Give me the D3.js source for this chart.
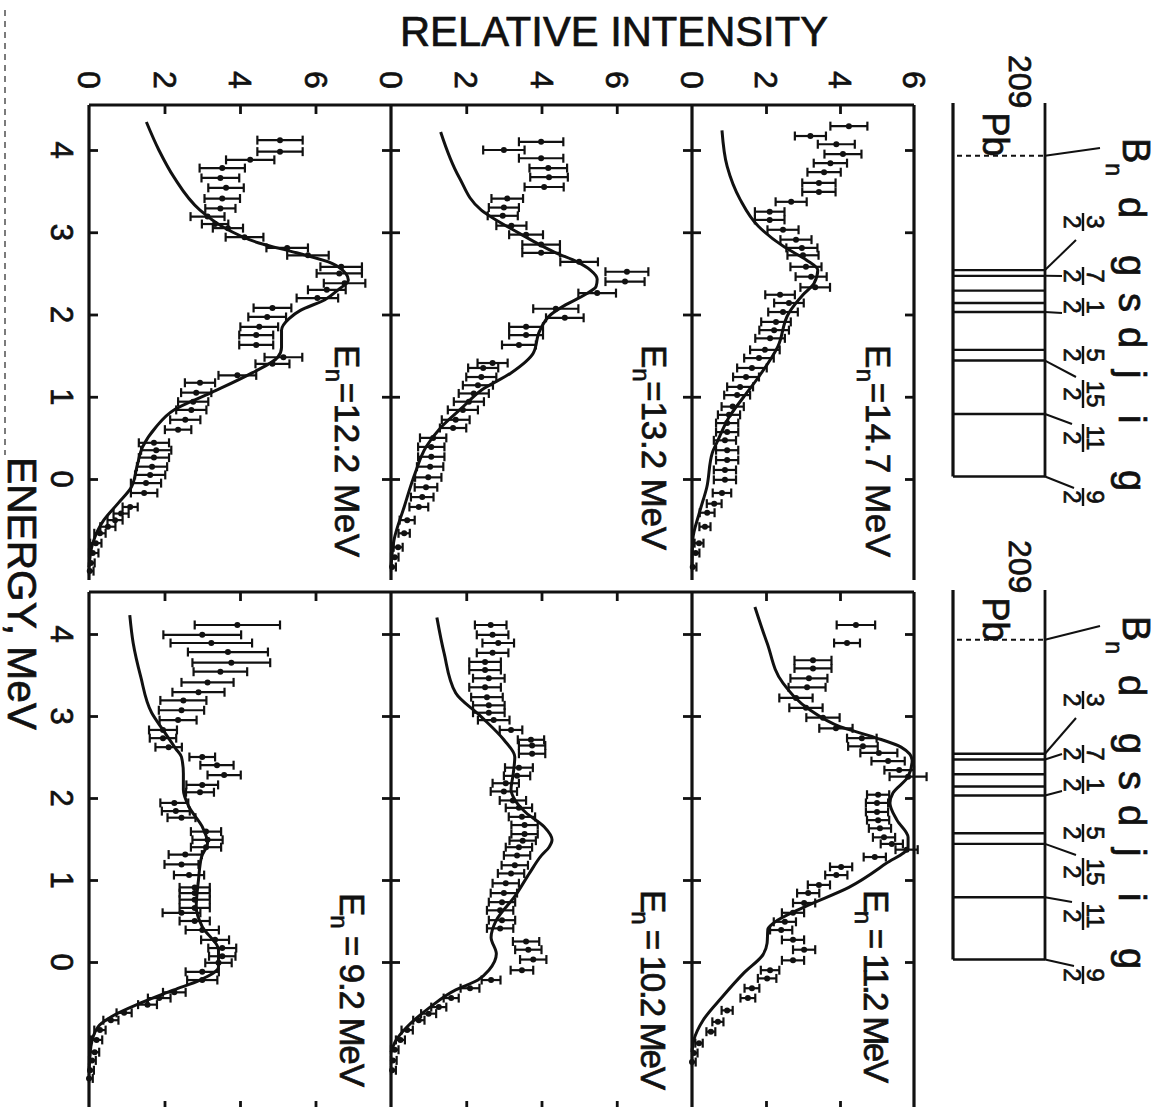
<!DOCTYPE html>
<html>
<head>
<meta charset="utf-8">
<script src="https://cdn.jsdelivr.net/npm/d3@7"></script>
<style>
  body { margin: 0; background: #fff; }
  text { font-family: "Liberation Sans", Arial, sans-serif; fill: #111; stroke: #111; stroke-width: 0.7px; }
</style>
</head>
<body>
<svg id="chart" width="1165" height="1107"></svg>
<script>
// tick values
const energyTicks = [4, 3, 2, 1, 0];
const intensityTicks = [0, 2, 4, 6];

// calculated curves: [energy MeV, relative intensity]
const curve122 = [[4.34,1.52],[4.0,1.85],[3.67,2.25],[3.27,2.94],[3.07,3.53],[2.87,4.5],[2.75,5.5],[2.62,6.45],[2.5,6.8],[2.42,6.87],[2.3,6.6],[2.18,6.25],[2.05,5.6],[1.95,5.3],[1.81,5.1],[1.6,5.1],[1.48,5.0],[1.29,4.32],[1.05,3.24],[0.84,2.25],[0.63,1.77],[0.39,1.42],[0.15,1.27],[-0.1,1.12],[-0.29,0.78],[-0.5,0.39],[-0.78,0.1],[-1.07,0.0]];
const curve132 = [[4.22,1.32],[3.67,1.81],[3.27,2.4],[2.99,3.4],[2.75,4.38],[2.64,4.95],[2.54,5.3],[2.43,5.48],[2.34,5.45],[2.24,5.15],[2.12,4.65],[2.0,4.25],[1.8,3.95],[1.53,3.78],[1.29,3.19],[1.08,2.4],[0.88,1.92],[0.63,1.33],[0.39,0.93],[0.07,0.64],[-0.34,0.35],[-0.74,0.08],[-1.07,0.0]];
const curve147 = [[4.24,0.81],[3.8,0.95],[3.4,1.3],[3.07,1.8],[2.82,2.5],[2.66,3.1],[2.54,3.4],[2.38,3.3],[2.24,3.0],[2.02,2.62],[1.61,2.32],[1.24,1.8],[1.0,1.4],[0.75,1.0],[0.47,0.7],[0.32,0.55],[-0.1,0.4],[-0.41,0.2],[-0.74,0.02],[-1.07,0.0]];
const curve92 = [[4.23,1.08],[3.89,1.17],[3.48,1.37],[3.04,1.66],[2.83,1.96],[2.6,2.3],[2.5,2.45],[2.3,2.5],[2.1,2.5],[1.89,2.65],[1.65,3.0],[1.45,3.14],[1.28,2.98],[1.0,2.9],[0.67,2.84],[0.43,3.0],[0.15,3.43],[-0.06,3.43],[-0.22,2.94],[-0.34,2.25],[-0.5,1.37],[-0.67,0.58],[-0.79,0.24],[-1.03,0.05],[-1.35,0.0]];
const curve102 = [[4.2,1.22],[3.77,1.41],[3.28,1.72],[2.99,2.4],[2.71,3.0],[2.5,3.29],[2.3,3.25],[2.1,3.19],[1.98,3.29],[1.82,3.59],[1.65,4.07],[1.49,4.28],[1.4,4.2],[1.3,4.0],[1.09,3.69],[0.8,3.29],[0.51,2.8],[0.3,2.66],[0.1,2.8],[-0.1,2.6],[-0.22,2.31],[-0.34,1.72],[-0.55,1.04],[-0.79,0.43],[-0.95,0.14],[-1.1,0.0]];
const curve112 = [[4.33,1.7],[3.89,2.03],[3.4,2.46],[3.07,3.2],[2.87,4.0],[2.74,4.93],[2.62,5.65],[2.46,5.95],[2.26,5.84],[2.06,5.43],[1.94,5.35],[1.73,5.54],[1.52,5.84],[1.4,5.84],[1.2,5.24],[0.91,4.24],[0.67,3.03],[0.48,2.22],[0.4,2.05],[0.23,2.03],[0.09,1.92],[-0.13,1.41],[-0.43,0.81],[-0.71,0.3],[-0.95,0.05],[-1.1,0.0]];

// measured points: [energy MeV, relative intensity, error]
const points122 = [[4.12,5.06,0.6],[3.98,5.06,0.6],[3.88,4.27,0.64],[3.78,3.53,0.6],[3.66,3.48,0.5],[3.54,3.63,0.47],[3.41,3.53,0.47],[3.29,3.48,0.4],[3.19,3.14,0.45],[3.1,3.34,0.35],[3.05,3.68,0.4],[2.94,4.12,0.5],[2.81,5.25,0.55],[2.72,5.8,0.55],[2.58,6.68,0.55],[2.5,6.63,0.6],[2.38,6.77,0.55],[2.3,6.3,0.5],[2.2,6.05,0.55],[2.08,4.86,0.5],[1.97,4.72,0.5],[1.85,4.51,0.5],[1.75,4.43,0.45],[1.63,4.43,0.45],[1.48,5.15,0.5],[1.4,4.86,0.45],[1.26,3.93,0.5],[1.17,2.94,0.4],[1.05,2.84,0.4],[0.94,2.76,0.4],[0.84,2.71,0.4],[0.72,2.55,0.4],[0.6,2.36,0.35],[0.44,1.72,0.4],[0.35,1.78,0.4],[0.26,1.72,0.4],[0.15,1.67,0.4],[0.05,1.62,0.4],[-0.05,1.51,0.4],[-0.17,1.46,0.35],[-0.34,1.09,0.2],[-0.42,0.85,0.2],[-0.5,0.69,0.2],[-0.58,0.5,0.2],[-0.66,0.29,0.15],[-0.78,0.18,0.15],[-0.9,0.1,0.15],[-1.02,0.05,0.1],[-1.12,0.02,0.1]];
const points132 = [[4.1,3.99,0.59],[4.0,3.0,0.55],[3.9,3.99,0.59],[3.78,4.18,0.5],[3.67,4.2,0.5],[3.55,4.07,0.52],[3.41,3.09,0.42],[3.3,3.0,0.4],[3.2,2.97,0.4],[3.08,3.2,0.4],[2.97,3.59,0.45],[2.85,3.99,0.5],[2.75,3.99,0.5],[2.64,5.0,0.5],[2.52,6.27,0.57],[2.4,6.22,0.52],[2.26,5.48,0.5],[2.07,4.38,0.6],[1.96,4.62,0.5],[1.85,3.59,0.45],[1.75,3.59,0.45],[1.63,3.4,0.45],[1.41,2.7,0.4],[1.35,2.45,0.4],[1.24,2.4,0.4],[1.14,2.31,0.4],[1.04,2.2,0.4],[0.94,2.07,0.4],[0.84,1.91,0.4],[0.72,1.72,0.37],[0.62,1.65,0.35],[0.5,1.12,0.35],[0.39,1.07,0.35],[0.27,1.07,0.35],[0.15,1.04,0.35],[0.02,0.99,0.35],[-0.1,0.93,0.3],[-0.22,0.83,0.3],[-0.34,0.74,0.25],[-0.5,0.43,0.2],[-0.66,0.35,0.15],[-0.83,0.19,0.12],[-0.95,0.1,0.1],[-1.07,0.03,0.1]];
const points147 = [[4.29,4.24,0.5],[4.17,3.2,0.42],[4.07,3.9,0.5],[3.95,4.08,0.5],[3.84,3.74,0.45],[3.73,3.57,0.45],[3.6,3.43,0.45],[3.49,3.43,0.45],[3.37,2.68,0.42],[3.25,2.1,0.4],[3.15,2.1,0.4],[3.03,2.46,0.42],[2.91,2.81,0.42],[2.81,2.97,0.42],[2.72,3.0,0.42],[2.58,3.08,0.42],[2.46,3.22,0.42],[2.33,3.33,0.4],[2.24,2.38,0.4],[2.14,2.62,0.4],[2.03,2.46,0.4],[1.91,2.27,0.4],[1.81,2.22,0.4],[1.71,2.11,0.4],[1.57,1.97,0.4],[1.47,1.81,0.4],[1.35,1.62,0.4],[1.24,1.46,0.35],[1.12,1.3,0.35],[1.02,1.22,0.35],[0.88,1.1,0.3],[0.78,1.0,0.3],[0.68,0.95,0.3],[0.57,0.95,0.3],[0.47,0.89,0.3],[0.35,0.95,0.3],[0.23,0.95,0.3],[0.11,0.89,0.3],[-0.01,0.89,0.3],[-0.17,0.81,0.25],[-0.3,0.6,0.2],[-0.41,0.41,0.2],[-0.58,0.35,0.15],[-0.78,0.19,0.12],[-0.9,0.1,0.1],[-1.07,0.02,0.1]];
const points92 = [[4.11,3.93,1.13],[3.99,3.0,1.03],[3.89,3.24,1.08],[3.78,3.68,1.06],[3.65,3.77,1.03],[3.54,3.48,0.71],[3.41,3.14,0.69],[3.29,2.9,0.69],[3.19,2.5,0.61],[3.07,2.45,0.6],[2.95,2.36,0.49],[2.83,1.96,0.37],[2.73,1.96,0.35],[2.62,2.11,0.35],[2.5,3.0,0.34],[2.4,3.39,0.44],[2.28,3.58,0.44],[2.16,3.0,0.42],[2.07,2.94,0.37],[1.94,2.26,0.37],[1.84,2.3,0.37],[1.76,2.45,0.37],[1.59,3.1,0.4],[1.49,3.14,0.4],[1.4,3.1,0.4],[1.31,2.55,0.44],[1.19,2.45,0.45],[1.06,2.65,0.4],[0.91,2.8,0.4],[0.84,2.8,0.4],[0.76,2.8,0.4],[0.66,2.8,0.4],[0.6,2.45,0.5],[0.5,2.8,0.4],[0.39,3.0,0.44],[0.27,3.34,0.37],[0.17,3.53,0.37],[0.07,3.53,0.35],[-0.01,3.43,0.35],[-0.12,3.0,0.44],[-0.22,3.0,0.4],[-0.37,2.26,0.3],[-0.44,1.86,0.3],[-0.52,1.55,0.25],[-0.62,0.93,0.2],[-0.71,0.58,0.2],[-0.83,0.29,0.15],[-0.95,0.2,0.15],[-1.1,0.15,0.12],[-1.2,0.08,0.1],[-1.32,0.03,0.1],[-1.42,0.0,0.1]];
const points102 = [[4.11,2.65,0.42],[3.99,2.7,0.42],[3.89,2.85,0.42],[3.77,2.7,0.42],[3.66,2.5,0.42],[3.56,2.5,0.42],[3.46,2.6,0.42],[3.35,2.5,0.42],[3.23,2.55,0.42],[3.13,2.6,0.42],[3.04,2.6,0.42],[2.95,2.73,0.42],[2.83,3.19,0.3],[2.71,3.72,0.35],[2.64,3.75,0.35],[2.54,3.75,0.35],[2.37,3.4,0.37],[2.27,3.35,0.35],[2.18,3.05,0.35],[2.08,3.0,0.35],[1.97,3.24,0.35],[1.88,3.4,0.35],[1.77,3.48,0.35],[1.67,3.55,0.35],[1.56,3.55,0.35],[1.48,3.5,0.35],[1.4,3.4,0.35],[1.3,3.35,0.35],[1.18,3.29,0.35],[1.08,3.19,0.35],[0.96,3.05,0.35],[0.84,3.0,0.35],[0.73,2.95,0.35],[0.63,2.9,0.35],[0.51,2.95,0.35],[0.41,2.9,0.35],[0.25,3.59,0.35],[0.15,3.65,0.35],[0.03,3.78,0.35],[-0.1,3.48,0.3],[-0.22,2.66,0.25],[-0.32,2.1,0.25],[-0.44,1.6,0.2],[-0.55,1.27,0.2],[-0.63,1.0,0.2],[-0.71,0.74,0.15],[-0.83,0.43,0.15],[-0.95,0.25,0.12],[-1.07,0.1,0.1],[-1.2,0.05,0.1],[-1.32,0.03,0.1]];
const points112 = [[4.11,4.43,0.52],[3.89,4.19,0.35],[3.68,3.27,0.5],[3.58,3.27,0.5],[3.46,3.16,0.5],[3.35,3.11,0.5],[3.22,2.81,0.45],[3.1,3.08,0.45],[2.98,3.54,0.45],[2.85,3.89,0.45],[2.73,4.59,0.4],[2.63,4.62,0.4],[2.55,5.05,0.5],[2.45,5.3,0.45],[2.34,5.6,0.4],[2.26,5.84,0.5],[2.04,5.03,0.3],[1.94,5.0,0.3],[1.83,5.0,0.3],[1.73,5.03,0.3],[1.63,5.08,0.3],[1.52,5.19,0.3],[1.44,5.4,0.3],[1.37,5.8,0.3],[1.28,4.94,0.3],[1.16,4.03,0.3],[1.06,3.9,0.3],[0.94,3.43,0.3],[0.84,3.14,0.3],[0.72,3.03,0.3],[0.6,2.73,0.3],[0.49,2.51,0.3],[0.39,2.41,0.3],[0.27,2.73,0.3],[0.15,3.03,0.3],[0.02,2.73,0.3],[-0.1,2.11,0.25],[-0.2,2.03,0.25],[-0.32,1.62,0.2],[-0.44,1.51,0.2],[-0.59,0.95,0.15],[-0.73,0.7,0.15],[-0.85,0.51,0.12],[-0.99,0.19,0.1],[-1.11,0.05,0.1],[-1.22,0.0,0.1]];

// 209Pb levels (MeV) and neutron binding energy
const levelEnergies = [2.54, 2.47, 2.29, 2.14, 2.03, 1.57, 1.44, 0.79, 0.03];
const bindingEnergy = 3.93;
const stateNames = ["d", "g", "s", "d", "j", "i", "g"];
const stateNumerators = ["3", "7", "1", "5", "15", "11", "9"];
const stateLevel = [0, 1, 4, 5, 6, 7, 8];

const svg = d3.select("#chart");
const ink = "#111";

const rows = [
  {top: 105, bottom: 580, y4: 150, y0: 479, closed: false, shift: 0, pbY: 55, boxTop: 103},
  {top: 592, bottom: 1110, y4: 634, y0: 962, closed: true, shift: 478, pbY: 540, boxTop: 590}
];
const cols = [
  {left: 89, right: 391, max: 8},
  {left: 391, right: 692, max: 8},
  {left: 692, right: 914, max: 6}
];

const panels = [
  {row: 0, col: 0, label: "=12.2 MeV", curve: curve122, pts: points122, lx: 335, ly: 345, len: 212},
  {row: 0, col: 1, label: "=13.2 MeV", curve: curve132, pts: points132, lx: 642, ly: 345, len: 205},
  {row: 0, col: 2, label: "=14.7 MeV", curve: curve147, pts: points147, lx: 866, ly: 345, len: 212},
  {row: 1, col: 0, label: " = 9.2 MeV", curve: curve92, pts: points92, lx: 340, ly: 893, len: 194},
  {row: 1, col: 1, label: " = 10.2 MeV", curve: curve102, pts: points102, lx: 641, ly: 890, len: 200},
  {row: 1, col: 2, label: " = 11.2 MeV", curve: curve112, pts: points112, lx: 864, ly: 890, len: 193}
];

const yScales = rows.map(r => d3.scaleLinear().domain([4, 0]).range([r.y4, r.y0]));
const xScales = cols.map(c => d3.scaleLinear().domain([0, c.max]).range([c.left, c.right]));

function rotText(sel, x, y, size) {
  return sel.append("text")
    .attr("transform", `translate(${x},${y}) rotate(90)`)
    .attr("font-size", size);
}

function styleAxis(g) {
  g.select(".domain").remove();
  g.selectAll(".tick line").attr("stroke", ink).attr("stroke-width", 2.8);
}

// scan edge
svg.append("line")
  .attr("x1", 5).attr("x2", 5).attr("y1", 10).attr("y2", 455)
  .attr("stroke", "#444").attr("stroke-width", 1.4).attr("stroke-dasharray", "6,5");

// frames and ticks
rows.forEach((r, ri) => {
  const y = yScales[ri];
  const frame = svg.append("g").attr("stroke", ink).attr("stroke-width", 3.2);
  frame.append("line").attr("x1", cols[0].left).attr("x2", cols[2].right).attr("y1", r.top).attr("y2", r.top);
  if (r.closed) frame.append("line").attr("x1", cols[0].left).attr("x2", cols[2].right).attr("y1", r.bottom).attr("y2", r.bottom);
  cols.map(c => c.left).concat([cols[2].right]).forEach(xv => {
    frame.append("line").attr("x1", xv).attr("x2", xv).attr("y1", r.top).attr("y2", r.bottom);
  });

  cols.forEach((c, ci) => {
    const x = xScales[ci];
    const inner = intensityTicks.filter(v => v > 0 && v < c.max);
    svg.append("g").attr("transform", `translate(0,${r.top})`)
      .call(d3.axisTop(x).tickValues(inner).tickSize(-9).tickFormat(""))
      .call(styleAxis);
    if (r.closed) {
      svg.append("g").attr("transform", `translate(0,${r.bottom})`)
        .call(d3.axisBottom(x).tickValues(inner).tickSize(-9).tickFormat(""))
        .call(styleAxis);
    }
    svg.append("g").attr("transform", `translate(${c.left},0)`)
      .call(d3.axisLeft(y).tickValues(energyTicks).tickSize(-9).tickFormat(""))
      .call(styleAxis);
    svg.append("g").attr("transform", `translate(${c.right},0)`)
      .call(d3.axisRight(y).tickValues(energyTicks).tickSize(-9).tickFormat(""))
      .call(styleAxis);
  });

  // energy tick labels
  energyTicks.forEach(e => {
    rotText(svg, 61, y(e), 31)
      .attr("text-anchor", "middle").attr("dominant-baseline", "central").text(e);
  });
});

// intensity tick labels (top only)
cols.forEach((c, ci) => {
  intensityTicks.forEach(v => {
    rotText(svg, xScales[ci](v), 80, 32)
      .attr("text-anchor", "middle").attr("dominant-baseline", "central").text(v);
  });
});

// axis titles
svg.append("text").attr("x", 400).attr("y", 46).attr("font-size", 43)
  .attr("textLength", 428).attr("lengthAdjust", "spacingAndGlyphs").text("RELATIVE INTENSITY");
rotText(svg, 8, 457, 40).attr("textLength", 273).attr("lengthAdjust", "spacingAndGlyphs").text("ENERGY, MeV");

// panels
panels.forEach(p => {
  const x = xScales[p.col], y = yScales[p.row];
  const g = svg.append("g");

  const line = d3.line().x(d => x(d[1])).y(d => y(d[0])).curve(d3.curveMonotoneY);
  g.append("path").datum(p.curve)
    .attr("d", line).attr("fill", "none").attr("stroke", ink).attr("stroke-width", 3);

  const bars = g.selectAll("g.pt").data(p.pts).enter().append("g").attr("class", "pt")
    .attr("stroke", ink).attr("stroke-width", 2.2);
  bars.append("line")
    .attr("x1", d => x(Math.max(0, d[1] - d[2]))).attr("x2", d => x(d[1] + d[2]))
    .attr("y1", d => y(d[0])).attr("y2", d => y(d[0]));
  bars.append("line")
    .attr("x1", d => x(Math.max(0, d[1] - d[2]))).attr("x2", d => x(Math.max(0, d[1] - d[2])))
    .attr("y1", d => y(d[0]) - 4.5).attr("y2", d => y(d[0]) + 4.5);
  bars.append("line")
    .attr("x1", d => x(d[1] + d[2])).attr("x2", d => x(d[1] + d[2]))
    .attr("y1", d => y(d[0]) - 4.5).attr("y2", d => y(d[0]) + 4.5);
  g.selectAll("circle").data(p.pts).enter().append("circle")
    .attr("cx", d => x(d[1])).attr("cy", d => y(d[0])).attr("r", 3).attr("fill", ink);

  const t = rotText(g, p.lx, p.ly, 35).attr("textLength", p.len).attr("lengthAdjust", "spacing");
  t.append("tspan").text("E");
  t.append("tspan").attr("font-size", 24).attr("dy", 9).text("n");
  t.append("tspan").attr("dy", -9).text(p.label);
});

// level diagrams
const boxL = 953, boxR = 1045;
const leaderEnds = [[1076, 240], [1062, 276], [1062, 313], null, [1076, 377], [1072, 424], [1074, 488]];
const letterY = [197, 255, 293, 327, 370, 415, 470];
const fracY = [222, 276, 307, 355, 394, 438, 497];

rows.forEach((r, ri) => {
  const y = yScales[ri];
  const g = svg.append("g").attr("stroke", ink);
  const gs = y(levelEnergies[levelEnergies.length - 1]);
  g.append("line").attr("x1", boxL).attr("x2", boxL).attr("y1", r.boxTop).attr("y2", gs).attr("stroke-width", 3.2);
  g.append("line").attr("x1", boxR).attr("x2", boxR).attr("y1", r.boxTop).attr("y2", gs).attr("stroke-width", 2.8);
  levelEnergies.forEach(e => {
    g.append("line").attr("x1", boxL).attr("x2", boxR).attr("y1", y(e)).attr("y2", y(e)).attr("stroke-width", 2.4);
  });
  g.append("line").attr("x1", boxL + 4).attr("x2", boxR).attr("y1", y(bindingEnergy)).attr("y2", y(bindingEnergy))
    .attr("stroke-width", 2).attr("stroke-dasharray", "5,4");

  // 209Pb
  const pb = rotText(svg, 983, r.pbY, 36);
  pb.append("tspan").attr("font-size", 32).attr("dy", -26).text("209");
  pb.append("tspan").attr("dy", 26).attr("dx", 4).text("Pb");

  // B_n
  g.append("line").attr("x1", boxR).attr("y1", y(bindingEnergy)).attr("x2", 1100).attr("y2", 148 + r.shift).attr("stroke-width", 2);
  const bn = rotText(svg, 1123, 138 + r.shift, 38);
  bn.append("tspan").text("B");
  bn.append("tspan").attr("font-size", 23).attr("dy", 17).text("n");

  stateNames.forEach((nm, i) => {
    const end = leaderEnds[i];
    if (end) {
      g.append("line").attr("x1", boxR).attr("y1", y(levelEnergies[stateLevel[i]]))
        .attr("x2", end[0]).attr("y2", end[1] + r.shift).attr("stroke-width", 2);
    }
    const lg = svg.append("g").attr("transform", `translate(1119,${letterY[i] + r.shift}) rotate(90)`);
    lg.append("text").attr("font-size", 38).text(nm);
    const fx = fracY[i] - letterY[i];
    const half = stateNumerators[i].length > 1 ? 14 : 9;
    lg.append("text").attr("x", fx).attr("y", 32).attr("text-anchor", "middle").attr("font-size", 24).text(stateNumerators[i]);
    lg.append("line").attr("x1", fx - half).attr("x2", fx + half).attr("y1", 36).attr("y2", 36)
      .attr("stroke", ink).attr("stroke-width", 2.4);
    lg.append("text").attr("x", fx).attr("y", 55).attr("text-anchor", "middle").attr("font-size", 24).text("2");
  });
});
</script>
</body>
</html>
